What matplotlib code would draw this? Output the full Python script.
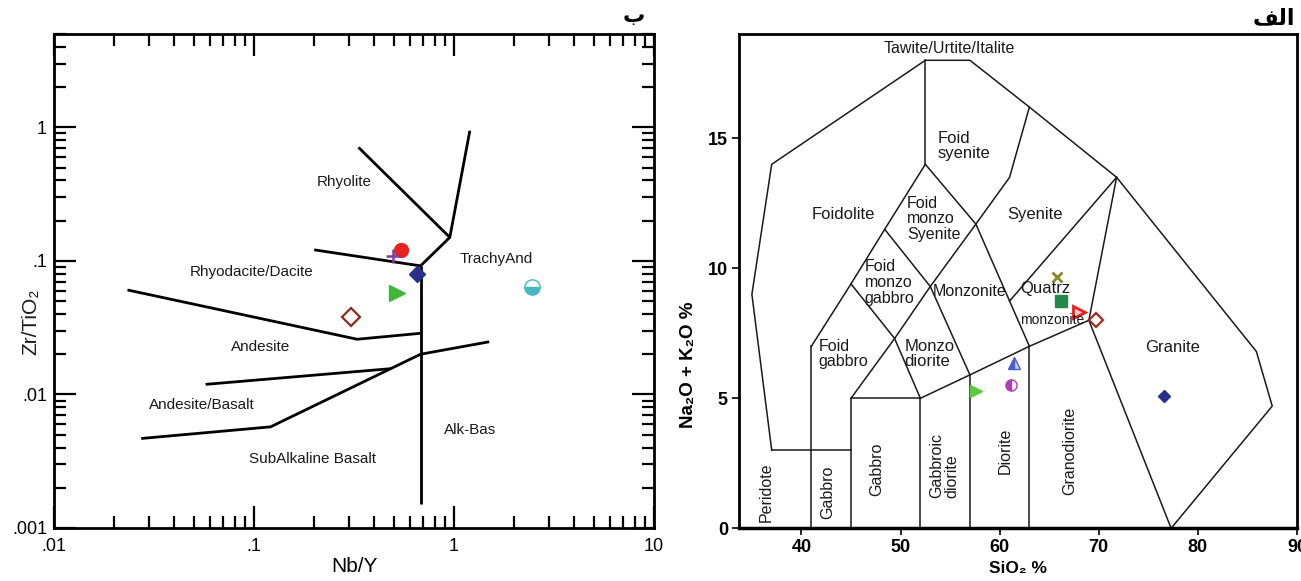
import matplotlib
matplotlib.use('Agg')
import matplotlib.pyplot as plt
from matplotlib.ticker import FixedLocator, FixedFormatter, LogLocator, NullFormatter

plt.rcParams['font.family'] = ['Liberation Sans', 'DejaVu Sans']

# ---- left panel (Nb/Y vs Zr/TiO2) ----
left_lines = [
    [(0.333, 0.708), (0.953, 0.15), (1.2, 0.944)],
    [(0.2, 0.121), (0.68, 0.0918), (0.953, 0.15)],
    [(0.68, 0.0918), (0.68, 0.00152)],
    [(0.0233, 0.0606), (0.328, 0.0259), (0.68, 0.0287)],
    [(0.0573, 0.0119), (0.483, 0.0156)],
    [(0.0273, 0.00468), (0.121, 0.00572), (0.68, 0.02), (1.5, 0.0248)],
]
left_regions = ['Rhyolite', 'Rhyodacite/Dacite', 'TrachyAnd', 'Andesite',
                'Andesite/Basalt', 'Alk-Bas', 'SubAlkaline Basalt']
left_region_x = [0.284, 0.0977, 1.62, 0.1077, 0.0546, 1.21, 0.197]
left_region_y = [0.387, 0.083, 0.103, 0.0225, 0.0083, 0.00546, 0.00331]

nby = [0.545, 0.495, 0.656, 0.52, 0.305, 2.45]
zrti = [0.121, 0.109, 0.0794, 0.0579, 0.0382, 0.0635]

# ---- right panel (TAS plutonic) ----
tas_lines = [
    [(37, 3), (35, 9), (37, 14), (52.5, 18), (57, 18), (63, 16.2), (71.8, 13.5),
     (85.9, 6.8), (87.5, 4.7), (77.3, 0)],
    [(37, 3), (45, 3)],
    [(41, 0), (41, 7)],
    [(41, 7), (45, 9.4), (48.4, 11.5), (52.5, 14)],
    [(52.5, 14), (52.5, 18)],
    [(52.5, 14), (57.6, 11.7), (63, 7)],
    [(48.4, 11.5), (53, 9.3), (57, 5.9)],
    [(45, 9.4), (49.4, 7.3), (52, 5)],
    [(45, 5), (49.4, 7.3), (53, 9.3), (57.6, 11.7), (61, 13.5), (63, 16.2)],
    [(45, 0), (45, 5), (52, 5), (52, 0)],
    [(52, 5), (57, 5.9), (63, 7), (69, 8)],
    [(57, 0), (57, 5.9)],
    [(63, 0), (63, 7)],
    [(69, 8), (77.3, 0)],
    [(69, 8), (71.8, 13.5)],
    [(61, 8.74), (71.8, 13.5)],
]
sio2 = [65.8, 66.2, 68.0, 69.7, 61.4, 61.15, 57.65, 76.6]
alk = [9.66, 8.73, 8.32, 8.0, 6.34, 5.51, 5.28, 5.1]

fig = plt.figure(figsize=(13.01, 5.81), dpi=100)

# left
ax1 = fig.add_axes([54 / 1301, 1 - 528 / 581, 600 / 1301, 494 / 581])
ax1.set_xscale('log')
ax1.set_yscale('log')
ax1.set_xlim(0.01, 10)
ax1.set_ylim(0.001, 5)
for ln in left_lines:
    xs = [p[0] for p in ln]
    ys = [p[1] for p in ln]
    ax1.plot(xs, ys, color='black', lw=2.0, solid_capstyle='butt')

for name, x, y in zip(left_regions, left_region_x, left_region_y):
    ax1.text(x, y, name, ha='center', va='center', fontsize=11,
             color='#1a1a1a')

ax1.plot(nby[0], zrti[0], 'o', color='#e8221c', ms=10)
ax1.plot(nby[1], zrti[1], '+', color='#7a3fa0', ms=10, mew=1.8)
ax1.plot(nby[2], zrti[2], 'D', color='#28308a', ms=8)
ax1.plot(nby[3], zrti[3], '>', color='#3db83a', ms=11)
ax1.plot(nby[4], zrti[4], 'D', mfc='white', mec='#8b2b1f', mew=1.6, ms=9)
ax1.plot(nby[5], zrti[5], 'o', color='#45b8c4', fillstyle='bottom',
         markerfacecoloralt='white', mec='#45b8c4', ms=11)

ax1.tick_params(which='both', direction='in', top=True, right=True, width=1.6)
ax1.tick_params(which='major', length=16, labelsize=13)
ax1.tick_params(which='minor', length=8.5)
ax1.xaxis.set_major_locator(FixedLocator([0.01, 0.1, 1, 10]))
ax1.xaxis.set_major_formatter(FixedFormatter(['.01', '.1', '1', '10']))
ax1.yaxis.set_major_locator(FixedLocator([0.001, 0.01, 0.1, 1]))
ax1.yaxis.set_major_formatter(FixedFormatter(['.001', '.01', '.1', '1']))
ax1.xaxis.set_minor_locator(LogLocator(base=10, subs=range(2, 10)))
ax1.yaxis.set_minor_locator(LogLocator(base=10, subs=range(2, 10)))
ax1.xaxis.set_minor_formatter(NullFormatter())
ax1.yaxis.set_minor_formatter(NullFormatter())
ax1.tick_params(axis='x', pad=7)
ax1.tick_params(axis='y', pad=5)
for s in ax1.spines.values():
    s.set_linewidth(2.0)
ax1.set_xlabel('Nb/Y', fontsize=15, labelpad=2)
fig.text(31 / 1301, 1 - 322 / 581, 'Zr/TiO\u2082', rotation=90, fontsize=15,
         ha='center', va='center', color='#1a1a1a')

# right
ax2 = fig.add_axes([739 / 1301, 1 - 528.3 / 581, 558 / 1301, 494 / 581])
ax2.set_xlim(33.7, 90)
ax2.set_ylim(0, 19)
for ln in tas_lines:
    xs = [p[0] for p in ln]
    ys = [p[1] for p in ln]
    ax2.plot(xs, ys, color='#1a1a1a', lw=1.1)

labs = [
    ('Tawite/Urtite/Italite', 54.9, 18.45, 0, 'center', 11.5),
    ('Foid\nsyenite', 53.7, 14.7, 0, 'left', 12),
    ('Foidolite', 41.0, 12.05, 0, 'left', 12),
    ('Syenite', 63.6, 12.05, 0, 'center', 12),
    ('Foid\nmonzo\nSyenite', 50.65, 11.9, 0, 'left', 11.5),
    ('Foid\nmonzo\ngabbro', 46.4, 9.45, 0, 'left', 11.5),
    ('Monzonite', 53.2, 9.1, 0, 'left', 11.5),
    ('Quatrz', 62.1, 9.24, 0, 'left', 12),
    ('monzonite', 62.1, 8.03, 0, 'left', 10),
    ('Foid\ngabbro', 41.7, 6.7, 0, 'left', 11.5),
    ('Monzo\ndiorite', 50.4, 6.7, 0, 'left', 12),
    ('Granite', 77.4, 6.94, 0, 'center', 12),
    ('Peridote', 36.4, 1.4, 90, 'center', 11.5),
    ('Gabbro', 42.7, 1.4, 90, 'center', 11.5),
    ('Gabbro', 47.6, 2.28, 90, 'center', 11.5),
    ('Gabbroic\ndiorite', 54.4, 2.4, 90, 'center', 11.5),
    ('Diorite', 60.6, 2.97, 90, 'center', 11.5),
    ('Granodiorite', 67.1, 2.97, 90, 'center', 11.5),
]
for t, x, y, rot, ha, fs in labs:
    ax2.text(x, y, t, ha=ha, va='center', rotation=rot, fontsize=fs,
             color='#1a1a1a', linespacing=1.05, multialignment='left')

ax2.plot(sio2[0], alk[0], 'x', color='#8a8a2a', ms=7, mew=2)
ax2.plot(sio2[1], alk[1], 's', color='#1f8a4a', ms=8)
ax2.plot(sio2[2], alk[2], '>', mfc='#ffd0d0', mec='#e8221c', mew=2, ms=8)
ax2.plot(sio2[3], alk[3], 'D', mfc='white', mec='#a02a1f', mew=1.6, ms=7)
ax2.plot(sio2[4], alk[4], '^', color='#4a5fc8', fillstyle='left',
         markerfacecoloralt='#c8cff0', mec='#4a5fc8', ms=8)
ax2.plot(sio2[5], alk[5], 'o', color='#b03cb8', fillstyle='left',
         markerfacecoloralt='white', mec='#b03cb8', ms=8)
ax2.plot(sio2[6], alk[6], '>', color='#5cc83c', ms=8)
ax2.plot(sio2[7], alk[7], 'D', color='#28308a', ms=6)

ax2.set_xticks([40, 50, 60, 70, 80, 90])
ax2.set_yticks([0, 5, 10, 15])
ax2.tick_params(direction='out', length=5, width=1.2, labelsize=13, pad=3)
for lab in ax2.get_xticklabels() + ax2.get_yticklabels():
    lab.set_fontweight('bold')
ax2.spines['top'].set_linewidth(2)
ax2.spines['right'].set_linewidth(2)
ax2.spines['left'].set_linewidth(2)
ax2.spines['bottom'].set_linewidth(2.5)
ax2.set_xlabel('SiO\u2082 %', fontsize=12.5, fontweight='bold', labelpad=3)
fig.text(689 / 1301, 1 - 365 / 581, 'Na\u2082O + K\u2082O %', rotation=90,
         fontsize=13.5, fontweight='bold', ha='center', va='center')

# arabic panel letters (shaped forms, visual order)
fig.text(634 / 1301, 1 - 16 / 581, '\uFE8F', fontsize=16, fontweight='bold',
         family=['DejaVu Sans'], ha='center', va='center')
fig.text(1274 / 1301, 1 - 18 / 581, '\uFED2\uFEDF\uFE8D', fontsize=16, fontweight='bold',
         family=['DejaVu Sans'], ha='center', va='center')

fig.savefig('out.png', dpi=100)
